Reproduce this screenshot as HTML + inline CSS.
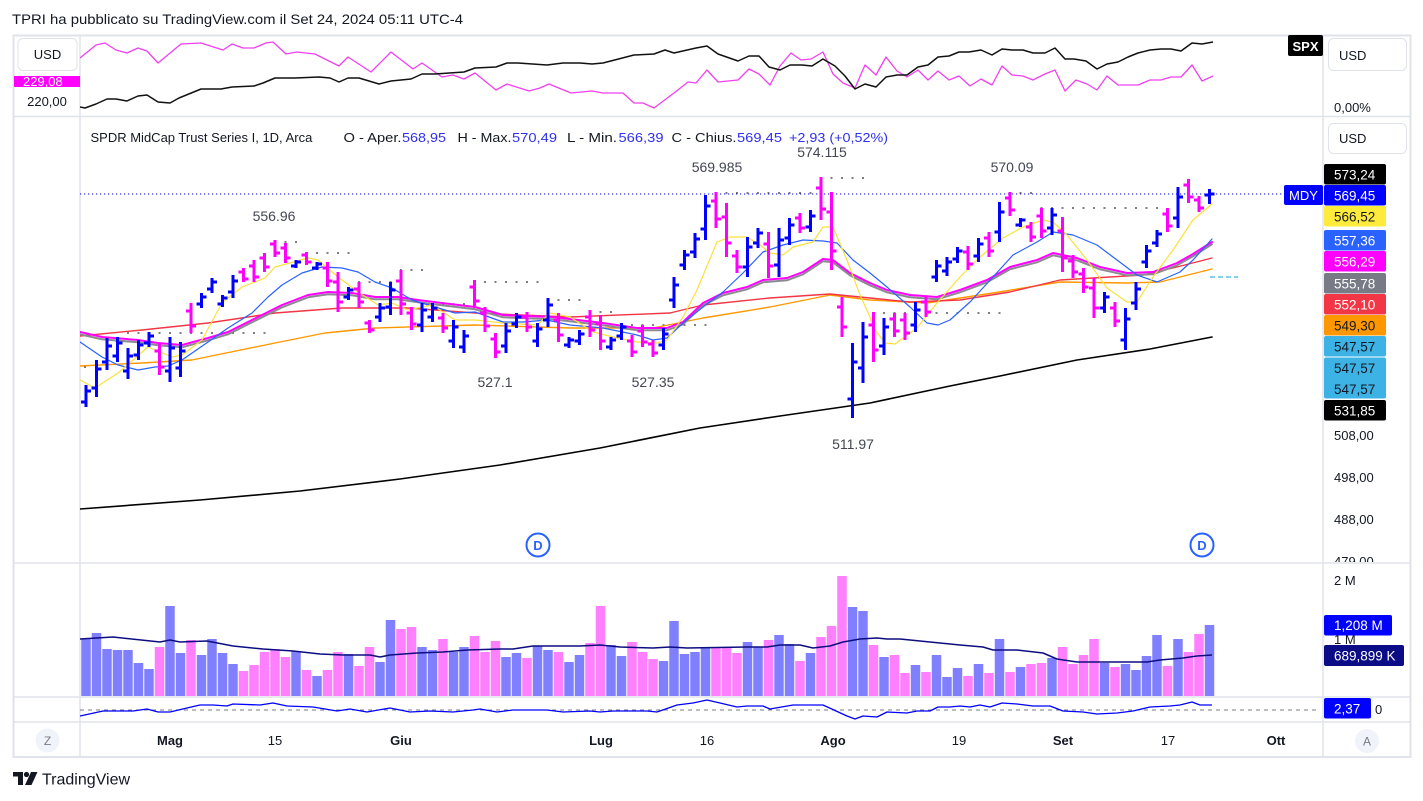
<!DOCTYPE html>
<html><head><meta charset="utf-8"><style>
html,body{margin:0;padding:0;background:#fff;width:1423px;height:801px;overflow:hidden}
svg{display:block;font-family:"Liberation Sans",Arial,sans-serif}
</style></head><body>
<svg width="1423" height="801" viewBox="0 0 1423 801" xmlns="http://www.w3.org/2000/svg">
<defs>
<clipPath id="cTop"><rect x="80" y="36" width="1243" height="80"/></clipPath>
<clipPath id="cMain"><rect x="80" y="117" width="1243" height="446"/></clipPath>
<clipPath id="cVol"><rect x="80" y="563" width="1243" height="134"/></clipPath>
<clipPath id="cInd"><rect x="80" y="697" width="1243" height="25"/></clipPath>
<clipPath id="cAx"><rect x="1323" y="117" width="90" height="445"/></clipPath>
<clipPath id="cMag"><rect x="14" y="76" width="66" height="11"/></clipPath>
</defs>
<rect width="1423" height="801" fill="#fff"/>
<text x="12" y="24" font-size="14" fill="#131722" textLength="451" lengthAdjust="spacingAndGlyphs">TPRI ha pubblicato su TradingView.com il Set 24, 2024 05:11 UTC-4</text>

<!-- frame -->
<rect x="13.5" y="35.5" width="1397" height="721.5" fill="none" stroke="#e0e3eb" stroke-width="2"/>
<g stroke="#e0e3eb" stroke-width="1.5">
<line x1="80" y1="35" x2="80" y2="757"/>
<line x1="1323" y1="35" x2="1323" y2="757"/>
<line x1="13" y1="116.5" x2="1410" y2="116.5"/>
<line x1="13" y1="563" x2="1410" y2="563"/>
<line x1="13" y1="697" x2="1410" y2="697"/>
<line x1="13" y1="722" x2="1410" y2="722"/>
</g>

<!-- top panel -->
<g clip-path="url(#cTop)" fill="none" stroke-linejoin="round">
<polyline stroke="#f040f0" stroke-width="1.3" points="80,58 96,45 105,43 116,50 127,53 138,48 147,51 158,63 181,44 201,43 223,50 232,44 243,48 254,48 266,43 273,42 286,54 297,52 315,54 339,66 348,57 371,72 391,52 413,69 422,63 442,77 453,75 464,79 475,73 496,90 507,84 529,91 540,88 549,84 571,93 592,91 603,93 623,93 634,103 643,103 654,108 674,93 688,82 696,83 707,70 718,82 728,81 738,80 749,69 759,74 770,85 780,66 791,53 801,60 811,59 823,52 833,74 843,83 855,88 865,65 876,75 886,57 897,71 907,77 918,70 928,80 938,71 949,80 959,76 970,86 981,79 992,85 1002,66 1012,75 1023,76 1033,80 1045,74 1055,70 1065,91 1076,80 1087,84 1097,90 1107,76 1118,85 1138,85 1150,80 1161,80 1171,77 1181,77 1192,65 1202,81 1213,76"/>
<polyline stroke="#111" stroke-width="1.5" points="80,107 85,108 96,104 107,99 116,99 127,101 138,96 147,95 158,102 170,103 179,98 201,89 221,89 232,87 254,86 263,83 275,78 295,78 319,77 330,78 339,82 348,78 359,78 379,84 391,81 411,79 422,74 435,74 464,72 475,68 496,67 507,63 518,63 547,65 563,63 580,63 592,64 603,63 634,55 654,54 665,50 674,53 696,48 707,46 718,54 738,61 749,56 759,56 769,67 780,70 790,65 802,65 812,66 823,59 835,66 845,76 855,89 865,84 876,87 886,77 897,75 907,75 918,67 928,65 938,57 949,56 959,52 969,52 981,50 992,55 1002,49 1012,50 1023,50 1033,53 1045,53 1055,48 1065,59 1074,59 1086,61 1097,69 1107,64 1118,62 1128,57 1138,53 1150,50 1161,49 1171,49 1181,51 1192,43 1202,44 1213,42"/>
</g>
<rect x="18" y="38.5" width="59" height="32" rx="5" fill="#fff" stroke="#e0e3eb"/>
<text x="47.5" y="59" font-size="13" fill="#131722" text-anchor="middle">USD</text>
<rect x="14" y="76" width="66" height="11" fill="#ff00ff"/>
<text x="23" y="86" font-size="13" fill="#fff" clip-path="url(#cMag)">229,08</text>
<text x="47" y="106" font-size="13" fill="#131722" text-anchor="middle">220,00</text>
<rect x="1288" y="35" width="35" height="21" rx="2" fill="#000"/>
<text x="1305.5" y="51" font-size="13" fill="#fff" text-anchor="middle" font-weight="bold">SPX</text>
<rect x="1328.5" y="38.5" width="78" height="32" rx="5" fill="#fff" stroke="#e0e3eb"/>
<text x="1339" y="60" font-size="13" fill="#131722">USD</text>
<text x="1334" y="112" font-size="13" fill="#131722">0,00%</text>

<!-- main panel -->
<text y="142" font-size="13" fill="#131722">
<tspan x="90.5">SPDR MidCap Trust Series I, 1D, Arca</tspan>
</text>
<g font-size="13">
<text x="343.5" y="142" fill="#131722" textLength="58" lengthAdjust="spacingAndGlyphs">O - Aper.</text>
<text x="402" y="142" fill="#3030f0" textLength="44" lengthAdjust="spacingAndGlyphs">568,95</text>
<text x="457.5" y="142" fill="#131722" textLength="54" lengthAdjust="spacingAndGlyphs">H - Max.</text>
<text x="512" y="142" fill="#3030f0" textLength="45" lengthAdjust="spacingAndGlyphs">570,49</text>
<text x="567" y="142" fill="#131722" textLength="50" lengthAdjust="spacingAndGlyphs">L - Min.</text>
<text x="618.5" y="142" fill="#3030f0" textLength="45" lengthAdjust="spacingAndGlyphs">566,39</text>
<text x="671.5" y="142" fill="#131722" textLength="65" lengthAdjust="spacingAndGlyphs">C - Chius.</text>
<text x="737" y="142" fill="#3030f0" textLength="45" lengthAdjust="spacingAndGlyphs">569,45</text>
<text x="789" y="142" fill="#3030f0" textLength="99" lengthAdjust="spacingAndGlyphs">+2,93 (+0,52%)</text>
</g>

<g clip-path="url(#cMain)">
<!-- current price dotted -->
<line x1="80" y1="194" x2="1285" y2="194" stroke="#0000ff" stroke-width="1" stroke-dasharray="1.2 2.8"/>
<line x1="1210" y1="277" x2="1238" y2="277" stroke="#42b3e5" stroke-width="1.2" stroke-dasharray="5 3"/>
<!-- pivot dots -->
<g stroke="#555" stroke-width="1.6" stroke-dasharray="2 8.5">
<line x1="84" y1="367" x2="87" y2="367"/>
<line x1="127" y1="333" x2="266" y2="333"/>
<line x1="274" y1="242" x2="297" y2="242"/>
<line x1="305.5" y1="253" x2="350" y2="253"/>
<line x1="358" y1="282" x2="392" y2="282"/>
<line x1="400" y1="270" x2="423" y2="270"/>
<line x1="431.5" y1="304" x2="466" y2="304"/>
<line x1="473.5" y1="282" x2="539" y2="282"/>
<line x1="547" y1="300" x2="581" y2="300"/>
<line x1="589" y1="312" x2="612" y2="312"/>
<line x1="631" y1="325" x2="707" y2="325"/>
<line x1="715" y1="193" x2="812" y2="193"/>
<line x1="820" y1="178" x2="864" y2="178"/>
<line x1="872.5" y1="313" x2="1001" y2="313"/>
<line x1="1009" y1="193" x2="1032" y2="193"/>
<line x1="1040.5" y1="208" x2="1158" y2="208"/>
<line x1="1187.5" y1="181" x2="1190" y2="181"/>
</g>
<!-- MAs -->
<g fill="none" stroke-linejoin="round" stroke-linecap="round">
<polyline stroke="#000" stroke-width="1.6" points="80,509 200,500 300,491 400,479 500,465 600,448 700,428 780,416 870,403 950,386 1000,376 1077,360 1150,349 1212,337"/>
<polyline stroke="#ff9800" stroke-width="1.4" points="80,366 142,363 192,360 275,343 325,333 375,328 475,325 570,328 653,328 703,318 770,307 830,295 870,300 927,303 993,293 1060,282 1127,283 1160,282 1212,269"/>
<polyline stroke="#f23645" stroke-width="1.4" points="80,336 142,330 208,323 275,313 342,308 408,308 475,313 570,317 670,313 703,305 770,298 830,294 870,298 910,302 960,300 1010,292 1060,280 1110,277 1143,275 1177,267 1212,258"/>
<polyline stroke="#8a8a90" stroke-width="2" transform="translate(0,2.3)" points="80,332 102,337 138,340 158,343 182,345 208,338 228,332 262,315 282,305 308,295 328,292 352,293 375,297 398,297 418,300 442,303 475,307 503,315 553,317 603,323 637,328 667,328 683,322 703,303 723,293 747,287 763,280 787,278 803,272 823,259 833,260 850,273 870,283 887,290 910,295 937,297 960,290 987,280 1010,267 1037,260 1053,253 1077,258 1100,267 1127,273 1153,272 1177,263 1193,254 1212,242"/>
<polyline stroke="#ff00ff" stroke-width="2" points="80,332 102,337 138,340 158,343 182,345 208,338 228,332 262,315 282,305 308,295 328,292 352,293 375,297 398,297 418,300 442,303 475,307 503,315 553,317 603,323 637,328 667,328 683,322 703,303 723,293 747,287 763,280 787,278 803,272 823,259 833,260 850,273 870,283 887,290 910,295 937,297 960,290 987,280 1010,267 1037,260 1053,253 1077,258 1100,267 1127,273 1153,272 1177,263 1193,254 1212,242"/>
<polyline stroke="#2962ff" stroke-width="1.2" points="80,342 102,357 118,365 138,370 155,367 168,366 182,360 208,342 228,328 252,313 268,297 282,285 302,273 322,267 342,268 358,272 375,282 392,288 412,300 435,307 455,313 475,312 503,322 523,322 547,320 570,325 603,328 637,335 653,340 667,338 683,323 703,307 723,292 743,273 763,252 783,245 803,240 823,241 837,243 853,260 870,273 887,287 910,307 927,323 938,325 950,320 970,302 993,277 1013,255 1037,242 1053,232 1073,235 1097,245 1117,260 1137,275 1157,282 1180,272 1193,260 1212,239"/>
<polyline stroke="#fbe13a" stroke-width="1.2" points="80,380 95,388 118,373 148,347 172,357 182,355 202,340 222,303 242,287 265,278 275,267 308,258 318,260 338,277 358,292 378,305 392,303 408,310 432,305 455,320 475,320 503,323 537,325 550,313 570,317 593,332 613,337 637,342 657,343 667,340 683,317 697,290 717,242 730,237 747,237 760,245 770,253 783,255 793,247 813,242 823,227 833,227 847,260 860,295 870,317 873,327 885,343 895,344 917,328 937,303 960,277 980,257 1003,238 1023,227 1043,220 1053,222 1067,235 1087,260 1107,288 1127,302 1137,302 1153,277 1173,250 1193,220 1212,204"/>
</g>
<!-- bars -->
<path fill="none" stroke="#0000ff" stroke-width="3" d="M86 385V407M81 402H86M86 391H91M96.5 360V397M91.5 388H96.5M96.5 369H101.5M107 338V370M102 362H107M107 346H112M117.5 337V362M112.5 356H117.5M117.5 343H122.5M128 348V379M123 371H128M128 356H133M138.5 340V360M133.5 355H138.5M138.5 345H143.5M149 332V347M144 343H149M149 336H154M170 337V382M165 371H170M170 348H175M180.5 342V377M175.5 368H180.5M180.5 351H185.5M201.5 293V308M196.5 304H201.5M201.5 297H206.5M212 278V293M207 289H212M212 282H217M222.5 295V307M217.5 304H222.5M222.5 298H227.5M233 275V298M228 292H233M233 281H238M296 260V268M291 266H296M296 262H301M317 262V270M312 268H317M317 264H322M348.5 287V300M343.5 297H348.5M348.5 290H353.5M380 303V322M375 317H380M380 308H385M390.5 282V315M385.5 307H390.5M390.5 290H395.5M422 303V332M417 325H422M422 310H427M432.5 303V322M427.5 317H432.5M432.5 308H437.5M453.5 320V348M448.5 341H453.5M453.5 327H458.5M464 330V353M459 347H464M464 336H469M506 323V353M501 346H506M506 331H511M516.5 313V328M511.5 324H516.5M516.5 317H521.5M537.5 323V347M532.5 341H537.5M537.5 329H542.5M548 298V327M543 320H548M548 305H553M569 337V348M564 345H569M569 340H574M579.5 330V345M574.5 341H579.5M579.5 334H584.5M611 337V350M606 347H611M611 340H616M621.5 323V340M616.5 336H621.5M621.5 327H626.5M663.5 328V350M658.5 345H663.5M663.5 334H668.5M674 277V308M669 300H674M674 285H679M684.5 250V270M679.5 265H684.5M684.5 255H689.5M695 233V258M690 252H695M695 239H700M705.5 195V240M700.5 229H705.5M705.5 206H710.5M747.5 237V277M742.5 267H747.5M747.5 247H752.5M758 228V248M753 243H758M758 233H763M779 228V277M774 265H779M779 240H784M789.5 218V245M784.5 238H789.5M789.5 225H794.5M810.5 210V232M805.5 227H810.5M810.5 216H815.5M852.5 343V418M847.5 399H852.5M852.5 362H857.5M863 322V383M858 368H863M863 337H868M884 318V355M879 346H884M884 327H889M915.5 302V332M910.5 325H915.5M915.5 310H920.5M936.5 260V282M931.5 277H936.5M936.5 266H941.5M947 257V276M942 271H947M947 262H952M957.5 247V263M952.5 259H957.5M957.5 251H962.5M978.5 238V262M973.5 256H978.5M978.5 244H983.5M999.5 202V242M994.5 232H999.5M999.5 212H1004.5M1020.5 218V227M1015.5 225H1020.5M1020.5 220H1025.5M1052 208V235M1047 228H1052M1052 215H1057M1104.5 292V313M1099.5 308H1104.5M1104.5 297H1109.5M1125.5 308V350M1120.5 340H1125.5M1125.5 319H1130.5M1136 282V310M1131 303H1136M1136 289H1141M1146.5 245V268M1141.5 262H1146.5M1146.5 251H1151.5M1157 230V247M1152 243H1157M1157 234H1162M1178 187V228M1173 218H1178M1178 197H1183M1209.5 189V204M1204.5 195H1209.5M1209.5 194H1214.5"/>
<path fill="none" stroke="#ff00ff" stroke-width="3" d="M159.5 343V375M154.5 351H159.5M159.5 367H164.5M191 303V333M186 311H191M191 326H196M243.5 268V282M238.5 272H243.5M243.5 279H248.5M254 260V282M249 266H254M254 277H259M264.5 253V272M259.5 258H264.5M264.5 267H269.5M275 240V257M270 244H275M275 253H280M285.5 243V263M280.5 248H285.5M285.5 258H290.5M306.5 252V265M301.5 255H306.5M306.5 262H311.5M327.5 262V287M322.5 268H327.5M327.5 281H332.5M338 272V312M333 282H338M338 302H343M359 282V308M354 289H359M359 302H364M369.5 320V333M364.5 323H369.5M369.5 330H374.5M401 270V315M396 281H401M401 304H406M411.5 307V330M406.5 313H411.5M411.5 324H416.5M443 313V333M438 318H443M443 328H448M474.5 280V308M469.5 287H474.5M474.5 301H479.5M485 307V332M480 313H485M485 326H490M495.5 333V358M490.5 339H495.5M495.5 352H500.5M527 312V332M522 317H527M527 327H532M558.5 313V342M553.5 320H558.5M558.5 335H563.5M590 310V337M585 317H590M590 330H595M600.5 315V350M595.5 324H600.5M600.5 341H605.5M632 335V357M627 341H632M632 352H637M642.5 325V347M637.5 331H642.5M642.5 342H647.5M653 340V357M648 344H653M653 353H658M716 192V228M711 201H716M716 219H721M726.5 203V257M721.5 217H726.5M726.5 243H731.5M737 250V273M732 256H737M737 267H742M768.5 232V278M763.5 244H768.5M768.5 266H773.5M800 213V233M795 218H800M800 228H805M821 177V220M816 188H821M821 209H826M831.5 192V270M826.5 212H831.5M831.5 251H836.5M842 297V337M837 307H842M842 327H847M873.5 312V362M868.5 325H873.5M873.5 350H878.5M894.5 313V337M889.5 319H894.5M894.5 331H899.5M905 313V340M900 320H905M905 333H910M926 297V317M921 302H926M926 312H931M968 246V270M963 252H968M968 264H973M989 232V257M984 238H989M989 251H994M1010 192V216M1005 198H1010M1010 210H1015M1031 222V242M1026 227H1031M1031 237H1036M1041.5 208V238M1036.5 216H1041.5M1041.5 231H1046.5M1062.5 217V272M1057.5 231H1062.5M1062.5 258H1067.5M1073 255V278M1068 261H1073M1073 272H1078M1083.5 268V293M1078.5 274H1083.5M1083.5 287H1088.5M1094 278V318M1089 288H1094M1094 308H1099M1115 302V327M1110 308H1115M1115 321H1120M1167.5 208V232M1162.5 214H1167.5M1167.5 226H1172.5M1188.5 179V203M1183.5 185H1188.5M1188.5 197H1193.5M1199 196V212M1194 200H1199M1199 208H1204"/>
<!-- value labels -->
<g font-size="14" fill="#434651" text-anchor="middle">
<text x="274" y="221">556.96</text>
<text x="717" y="172">569.985</text>
<text x="822" y="157">574.115</text>
<text x="1012" y="172">570.09</text>
<text x="495" y="387">527.1</text>
<text x="653" y="387">527.35</text>
<text x="853" y="449">511.97</text>
</g>
<!-- D markers -->
<g>
<circle cx="538" cy="545" r="11.5" fill="#fff" stroke="#2962ff" stroke-width="2"/>
<text x="538" y="550" font-size="13" font-weight="bold" fill="#2962ff" text-anchor="middle">D</text>
<circle cx="1202" cy="545" r="11.5" fill="#fff" stroke="#2962ff" stroke-width="2"/>
<text x="1202" y="550" font-size="13" font-weight="bold" fill="#2962ff" text-anchor="middle">D</text>
</g>
</g>

<!-- MDY badge -->
<rect x="1284" y="185" width="39" height="20" rx="2" fill="#0000ff"/>
<text x="1303.5" y="200" font-size="13" fill="#fff" text-anchor="middle">MDY</text>

<!-- main right axis -->
<rect x="1328.5" y="123.5" width="78" height="30" rx="5" fill="#fff" stroke="#e0e3eb"/>
<text x="1339" y="143" font-size="13" fill="#131722">USD</text>
<g font-size="13" fill="#131722" clip-path="url(#cAx)">
<text x="1334" y="440">508,00</text>
<text x="1334" y="482">498,00</text>
<text x="1334" y="524">488,00</text>
<text x="1334" y="566">479,00</text>
</g>
<g font-size="13.5">
<rect x="1324" y="164" width="62" height="20.5" rx="2" fill="#000"/><text x="1334" y="179.5" fill="#fff">573,24</text>
<rect x="1324" y="185" width="62" height="20.5" rx="2" fill="#0000ff"/><text x="1334" y="200.5" fill="#fff">569,45</text>
<rect x="1324" y="206" width="62" height="20.5" rx="2" fill="#ffeb3b"/><text x="1334" y="221.5" fill="#131722">566,52</text>
<rect x="1324" y="230" width="62" height="20.5" rx="2" fill="#2962ff"/><text x="1334" y="245.5" fill="#fff">557,36</text>
<rect x="1324" y="251" width="62" height="20.5" rx="2" fill="#ff00ff"/><text x="1334" y="266.5" fill="#fff">556,29</text>
<rect x="1324" y="273" width="62" height="20.5" rx="2" fill="#787b86"/><text x="1334" y="288.5" fill="#fff">555,78</text>
<rect x="1324" y="294" width="62" height="20.5" rx="2" fill="#f23645"/><text x="1334" y="309.5" fill="#fff">552,10</text>
<rect x="1324" y="315" width="62" height="20.5" rx="2" fill="#ff9800"/><text x="1334" y="330.5" fill="#131722">549,30</text>
<rect x="1324" y="336" width="62" height="20.5" rx="2" fill="#3db2e4"/><text x="1334" y="351.5" fill="#131722">547,57</text>
<rect x="1324" y="357.5" width="62" height="41" rx="2" fill="#3db2e4"/><text x="1334" y="373" fill="#131722">547,57</text><text x="1334" y="394" fill="#131722">547,57</text>
<rect x="1324" y="400" width="62" height="20.5" rx="2" fill="#000"/><text x="1334" y="415.5" fill="#fff">531,85</text>
</g>

<!-- volume -->
<g clip-path="url(#cVol)">
<path fill="#8080ff" d="M81.25 696V639h9.5V696zM91.75 696V633h9.5V696zM102.25 696V649h9.5V696zM112.75 696V650h9.5V696zM123.25 696V650h9.5V696zM133.75 696V663h9.5V696zM144.25 696V669h9.5V696zM165.25 696V606h9.5V696zM175.75 696V653h9.5V696zM196.75 696V655h9.5V696zM207.25 696V639h9.5V696zM217.75 696V653h9.5V696zM228.25 696V664h9.5V696zM291.25 696V651h9.5V696zM312.25 696V676h9.5V696zM343.75 696V654h9.5V696zM375.25 696V662h9.5V696zM385.75 696V620h9.5V696zM417.25 696V647h9.5V696zM427.75 696V650h9.5V696zM448.75 696V652h9.5V696zM459.25 696V647h9.5V696zM501.25 696V657h9.5V696zM511.75 696V653h9.5V696zM532.75 696V646h9.5V696zM543.25 696V650h9.5V696zM564.25 696V662h9.5V696zM574.75 696V655h9.5V696zM606.25 696V645h9.5V696zM616.75 696V656h9.5V696zM658.75 696V661h9.5V696zM669.25 696V621h9.5V696zM679.75 696V654h9.5V696zM690.25 696V652h9.5V696zM700.75 696V647h9.5V696zM742.75 696V642h9.5V696zM753.25 696V647h9.5V696zM774.25 696V635h9.5V696zM784.75 696V644h9.5V696zM805.75 696V653h9.5V696zM847.75 696V607h9.5V696zM858.25 696V611h9.5V696zM879.25 696V657h9.5V696zM910.75 696V665h9.5V696zM931.75 696V655h9.5V696zM942.25 696V677h9.5V696zM952.75 696V668h9.5V696zM973.75 696V664h9.5V696zM994.75 696V639h9.5V696zM1015.75 696V667h9.5V696zM1047.25 696V658h9.5V696zM1099.75 696V663h9.5V696zM1120.75 696V664h9.5V696zM1131.25 696V670h9.5V696zM1141.75 696V656h9.5V696zM1152.25 696V635h9.5V696zM1173.25 696V639h9.5V696zM1204.75 696V625h9.5V696z"/>
<path fill="#ff80ff" d="M154.75 696V647h9.5V696zM186.25 696V640h9.5V696zM238.75 696V671h9.5V696zM249.25 696V665h9.5V696zM259.75 696V652h9.5V696zM270.25 696V649h9.5V696zM280.75 696V657h9.5V696zM301.75 696V670h9.5V696zM322.75 696V670h9.5V696zM333.25 696V652h9.5V696zM354.25 696V666h9.5V696zM364.75 696V647h9.5V696zM396.25 696V629h9.5V696zM406.75 696V627h9.5V696zM438.25 696V639h9.5V696zM469.75 696V636h9.5V696zM480.25 696V652h9.5V696zM490.75 696V641h9.5V696zM522.25 696V658h9.5V696zM553.75 696V652h9.5V696zM585.25 696V643h9.5V696zM595.75 696V606h9.5V696zM627.25 696V642h9.5V696zM637.75 696V652h9.5V696zM648.25 696V659h9.5V696zM711.25 696V648h9.5V696zM721.75 696V648h9.5V696zM732.25 696V653h9.5V696zM763.75 696V640h9.5V696zM795.25 696V661h9.5V696zM816.25 696V637h9.5V696zM826.75 696V626h9.5V696zM837.25 696V576h9.5V696zM868.75 696V645h9.5V696zM889.75 696V655h9.5V696zM900.25 696V673h9.5V696zM921.25 696V672h9.5V696zM963.25 696V676h9.5V696zM984.25 696V673h9.5V696zM1005.25 696V672h9.5V696zM1026.25 696V664h9.5V696zM1036.75 696V663h9.5V696zM1057.75 696V647h9.5V696zM1068.25 696V664h9.5V696zM1078.75 696V655h9.5V696zM1089.25 696V639h9.5V696zM1110.25 696V667h9.5V696zM1162.75 696V666h9.5V696zM1183.75 696V652h9.5V696zM1194.25 696V634h9.5V696z"/>
<polyline fill="none" stroke="#0d0d80" stroke-width="1.5" stroke-linejoin="round" points="80,639 113,637 160,642 170,640 180,642 207,641 233,646 263,649 293,651 320,654 343,655 370,655 380,657 390,655 417,653 443,652 467,650 500,649 513,649 533,646 580,646 600,645 620,647 653,648 670,647 687,648 747,647 767,647 780,645 800,645 813,648 830,646 843,642 860,639 877,638 887,639 900,639 930,642 940,643 960,645 983,647 993,650 1017,650 1043,653 1057,659 1077,662 1100,662 1147,662 1160,660 1183,658 1197,656 1212,655"/>
</g>
<text x="1334" y="585" font-size="13" fill="#131722">2 M</text>
<text x="1334" y="644" font-size="13" fill="#131722">1 M</text>
<rect x="1324" y="615" width="68" height="20.5" rx="2" fill="#0000ff"/>
<text x="1334" y="630" font-size="13.5" fill="#fff">1,208 M</text>
<rect x="1324" y="645" width="80" height="21" rx="2" fill="#0c0c87"/>
<text x="1334" y="660.5" font-size="13.5" fill="#fff">689,899 K</text>

<!-- indicator -->
<line x1="80" y1="710" x2="1320" y2="710" stroke="#787b86" stroke-width="1" stroke-dasharray="4 4"/>
<g clip-path="url(#cInd)">
<polyline fill="none" stroke="#0000ff" stroke-width="1.3" stroke-linejoin="round" points="80,716 103,711 133,711 147,709 158,712 170,712 187,708 200,705 213,705 227,706 233,704 260,705 273,703 287,706 313,707 337,711 350,709 367,712 390,708 410,712 430,711 453,712 473,710 480,709 497,712 513,710 547,710 563,712 590,711 600,712 613,711 647,711 657,712 677,705 693,703 707,700 720,703 737,707 747,706 763,706 770,709 793,705 813,705 823,705 847,716 855,719 863,716 877,717 887,712 907,713 917,711 930,711 938,707 950,707 960,706 970,707 980,705 990,707 1002,703 1017,704 1033,706 1050,706 1063,711 1083,712 1097,714 1117,713 1133,711 1150,707 1170,706 1180,705 1192,702 1200,705 1212,705"/>
</g>
<rect x="1324" y="698" width="47" height="20.5" rx="2" fill="#0000ff"/>
<text x="1334" y="713.5" font-size="13.5" fill="#fff">2,37</text>
<text x="1375" y="714" font-size="13" fill="#131722">0</text>

<!-- time axis -->
<circle cx="47.5" cy="740.5" r="12" fill="#f0f3fa"/>
<text x="47.5" y="745" font-size="12" fill="#787b86" text-anchor="middle">Z</text>
<circle cx="1367" cy="741" r="12" fill="#f0f3fa"/>
<text x="1367" y="745.5" font-size="12" fill="#787b86" text-anchor="middle">A</text>
<g font-size="13" fill="#131722" text-anchor="middle">
<text x="170" y="745" font-weight="bold">Mag</text>
<text x="275" y="745">15</text>
<text x="401" y="745" font-weight="bold">Giu</text>
<text x="601" y="745" font-weight="bold">Lug</text>
<text x="707" y="745">16</text>
<text x="833" y="745" font-weight="bold">Ago</text>
<text x="959" y="745">19</text>
<text x="1063" y="745" font-weight="bold">Set</text>
<text x="1168" y="745">17</text>
<text x="1276" y="745" font-weight="bold">Ott</text>
</g>

<!-- footer -->
<g fill="#131722">
<path d="M13 772H23V785H18V776.5H13Z"/>
<circle cx="26.5" cy="774.5" r="2.6"/>
<path d="M31 772H37.5L31.5 785H25Z"/>
</g>
<text x="42" y="784.5" font-size="16" fill="#131722">TradingView</text>
</svg>
</body></html>
